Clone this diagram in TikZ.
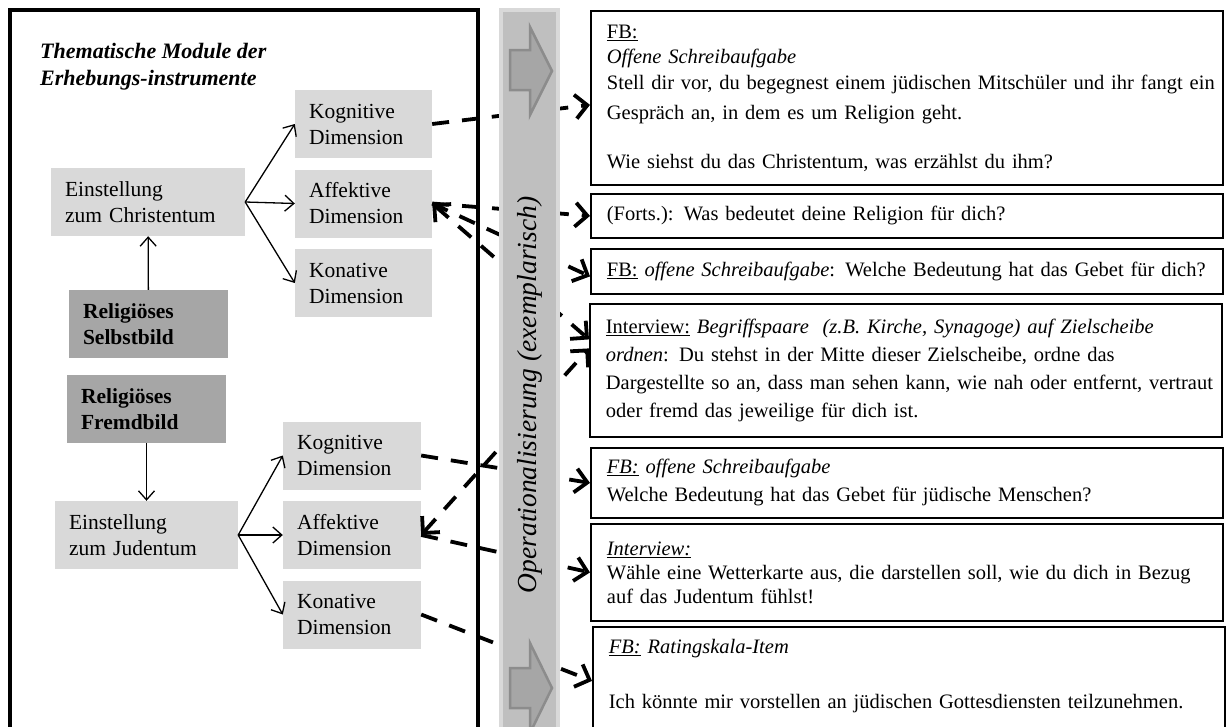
\documentclass[tikz,border=0pt]{standalone}
\usepackage{fontspec}
\setmainfont{Liberation Serif}
\usetikzlibrary{arrows.meta,calc}

\begin{document}
\begin{tikzpicture}[x=1pt,y=-1pt,
  lbox/.style={fill=black!15, align=left, inner xsep=14pt, inner ysep=0pt,
    minimum height=68pt, font=\fontsize{21.5}{26}\selectfont},
  dbox/.style={lbox, fill=black!35, font=\fontsize{21.5}{26}\selectfont\bfseries},
  rbox/.style={draw, line width=1.8pt, fill=white, align=left, text width=600pt,
    inner xsep=16pt, inner ysep=0pt, anchor=north west,
    font=\fontsize{20.5}{28}\selectfont},
  link/.style={line width=1.3pt, -{Straight Barb[length=9pt,width=16pt]}},
  dtip/.tip={Straight Barb[length=12pt,width=24pt]},
  dlink/.style={line width=3.8pt, dash pattern=on 17pt off 13pt, -dtip},
  dlink2/.style={dlink, dtip-dtip},
  barrow/.style={fill=black!35, draw=black!45, line width=2.5pt, line join=miter}
]
\useasboundingbox (0,0) rectangle (1231,726);
\fill[white] (0,0) rectangle (1231,726);
\clip (0,0) rectangle (1231,726);

% frame of the module panel (open at the bottom)
\draw[line width=3.5pt] (10,760) -- (10,10) -- (478,10) -- (478,760);

% panel title
\node[anchor=north west, align=left, inner sep=0pt,
  font=\fontsize{22}{27}\selectfont\bfseries\itshape] (title) at (40,43)
  {Thematische Module der\\Erhebungs-instrumente};

% self image branch
\node[lbox, text width=166pt] (ec) at (148,202) {Einstellung\\zum Christentum};
\node[lbox, text width=109pt] (kc) at (363.5,124) {Kognitive\\Dimension};
\node[lbox, text width=109pt] (ac) at (363.5,203.5) {Affektive\\Dimension};
\node[lbox, text width=109pt] (nc) at (363.5,283) {Konative\\Dimension};
\node[dbox, text width=131pt] (sb) at (148.5,324) {Religiöses\\Selbstbild};

% image of the other branch
\node[dbox, text width=131pt] (fb) at (146.5,409) {Religiöses\\Fremdbild};
\node[lbox, text width=155pt] (ej) at (146.5,535) {Einstellung\\zum Judentum};
\node[lbox, text width=110pt] (kj) at (352,455.5) {Kognitive\\Dimension};
\node[lbox, text width=110pt] (aj) at (352,535) {Affektive\\Dimension};
\node[lbox, text width=110pt] (nj) at (352,614.5) {Konative\\Dimension};

\draw[link] (sb) -- (ec);
\draw[link] (fb) -- (ej);
\draw[link] (ec.east) -- (kc.west);
\draw[link] (ec.east) -- (ac.west);
\draw[link] (ec.east) -- (nc.west);
\draw[link] (ej.east) -- (kj.west);
\draw[link] (ej.east) -- (aj.west);
\draw[link] (ej.east) -- (nj.west);

% survey items
\node[rbox, minimum height=174pt] (b1) at (590,10)
  {\underline{FB:}\\[-3pt]
   \textit{Offene Schreibaufgabe}\\[-2pt]
   \mbox{Stell dir vor, du begegnest einem jüdischen Mitschüler und ihr fangt ein}\\[2pt]
   Gespräch an, in dem es um Religion geht.\\[21pt]
   Wie siehst du das Christentum, was erzählst du ihm?};
\node[rbox, minimum height=44pt] (b2) at (590,193)
  {(Forts.): Was bedeutet deine Religion für dich?};
\node[rbox, minimum height=45pt] (b3) at (590,248)
  {\mbox{\underline{FB:} \textit{offene Schreibaufgabe}: Welche Bedeutung hat das Gebet für dich?}};
\node[rbox, minimum height=133pt] (b4) at (589,303)
  {\mbox{\underline{Interview:} \textit{Begriffspaare\ \ (z.B. Kirche, Synagoge) auf Zielscheibe}}\\
   \textit{ordnen}: Du stehst in der Mitte dieser Zielscheibe, ordne das\\
   \mbox{Dargestellte so an, dass man sehen kann, wie nah oder entfernt, vertraut}\\
   oder fremd das jeweilige für dich ist.};
\node[rbox, minimum height=70pt] (b5) at (590,447)
  {\underline{\textit{FB:}} \textit{offene Schreibaufgabe}\\
   Welche Bedeutung hat das Gebet für jüdische Menschen?};
\node[rbox, minimum height=97pt] (b6) at (590,523)
  {\underline{\textit{Interview:}}\\[-4pt]
   Wähle eine Wetterkarte aus, die darstellen soll, wie du dich in Bezug\\[-4pt]
   auf das Judentum fühlst!};
\node[rbox, minimum height=134pt] (b7) at (592,626)
  {\underline{\textit{FB:}} \textit{Ratingskala-Item}\\[27pt]
   \mbox{Ich könnte mir vorstellen an jüdischen Gottesdiensten teilzunehmen.}\\[3pt]
   \strut};

% operationalisation links
\draw[dlink]  (kc.east) -- ($(b1.west)+(0,7)$);
\draw[dlink]  (ac.east) -- (b2.west);
\draw[dlink]  (ac.east) -- ($(b3.west)+(0,5)$);
\draw[dlink2] (ac.east) -- ($(b4.west)+(0,-31)$);
\draw[dlink2] (aj.east) -- ($(b4.west)+(0,-22)$);
\draw[dlink]  (kj.east) -- (b5.west);
\draw[dlink]  (aj.east) -- (b6.west);
\draw[dlink]  (nj.east) -- ($(b7.west)+(0,-13)$);

% operationalisation bar
\fill[black!15] (499,8) rectangle (560,760);
\fill[black!25] (503,12) rectangle (556,760);
\filldraw[barrow] (510,50) -- (530,50) -- (530,27) -- (552,71) -- (530,115)
  -- (530,90) -- (510,90) -- cycle;
\filldraw[barrow] (510,668) -- (530,668) -- (530,643) -- (552,688) -- (530,733)
  -- (530,708) -- (510,708) -- cycle;
\node[rotate=90, inner sep=0pt, font=\fontsize{27.5}{30}\selectfont\itshape] (op)
  at (530,395) {Operationalisierung (exemplarisch)};
\end{tikzpicture}
\end{document}
